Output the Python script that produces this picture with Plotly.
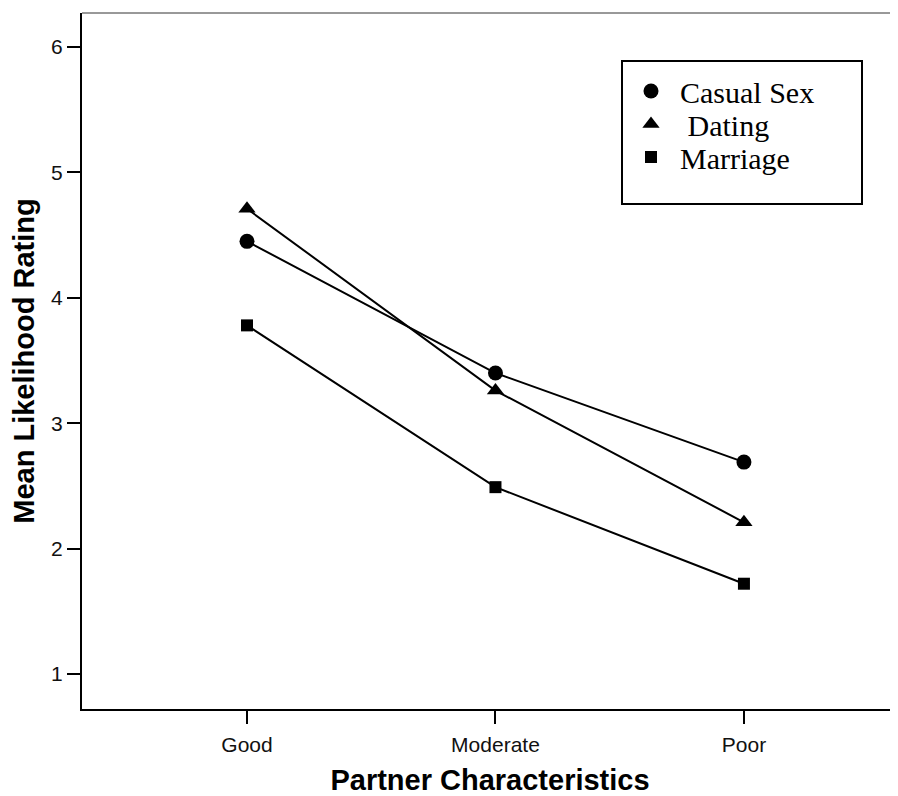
import plotly.graph_objects as go

categories = ["Good", "Moderate", "Poor"]
casual_sex = [4.45, 3.40, 2.69]
dating = [4.71, 3.26, 2.21]
marriage = [3.78, 2.49, 1.72]
y_ticks = [1, 2, 3, 4, 5, 6]

series = [
    ("Casual Sex", casual_sex, "circle", 15, "legend"),
    (" Dating", dating, "triangle-up", 15, "legend2"),
    ("Marriage", marriage, "square", 12, "legend3"),
]

fig = go.Figure()
for name, vals, sym, size, lg in series:
    fig.add_trace(go.Scatter(
        x=categories, y=vals, mode="lines",
        line=dict(color="black", width=2), showlegend=False, hoverinfo="skip"))
for name, vals, sym, size, lg in series:
    fig.add_trace(go.Scatter(
        x=categories, y=vals, mode="markers", name=name, legend=lg,
        marker=dict(symbol=sym, size=size, color="black")))

# plot area in page pixels: x 82..898, y 13..709 (page has 8px body margin)
PW, PH = 816, 696


def legend_row(center_px):
    return dict(
        x=(622 - 82) / PW, y=(709 - center_px) / PH, xanchor="left", yanchor="middle",
        bgcolor="rgba(0,0,0,0)", borderwidth=0, itemwidth=48, itemsizing="trace",
        font=dict(family="Liberation Serif, Times New Roman, serif", size=30, color="black"),
    )


fig.update_layout(
    width=890, height=788,
    margin=dict(l=74, r=0, t=5, b=87),
    plot_bgcolor="white", paper_bgcolor="white",
    font=dict(family="Liberation Sans, Arial, sans-serif", color="black"),
    showlegend=True,
    legend=legend_row(91),
    legend2=legend_row(124),
    legend3=legend_row(157),
    xaxis=dict(
        type="category", range=[-0.664, 2.62],
        showline=True, linecolor="black", linewidth=2,
        ticks="outside", ticklen=13, tickwidth=2, tickcolor="black",
        tickfont=dict(size=21, color="#111"), ticklabelstandoff=3,
        showgrid=False, zeroline=False,
        title=dict(text="<b>Partner Characteristics</b>", font=dict(size=29), standoff=20),
    ),
    yaxis=dict(
        range=[0.721, 6.271], tickvals=y_ticks,
        showline=True, linecolor="black", linewidth=2,
        ticks="outside", ticklen=13, tickwidth=2, tickcolor="black",
        tickfont=dict(size=21, color="#111"),
        showgrid=False, zeroline=False,
        title=dict(text="<b>Mean Likelihood Rating</b>", font=dict(size=29), standoff=8),
    ),
    shapes=[
        dict(type="line", xref="paper", yref="paper", x0=0, x1=1, y0=1, y1=1,
             line=dict(color="#333", width=1)),
        dict(type="rect", xref="paper", yref="paper",
             x0=(622 - 82) / PW, x1=(862 - 82) / PW,
             y0=(709 - 204) / PH, y1=(709 - 61) / PH,
             line=dict(color="black", width=2)),
    ],
)

fig.write_html("out.html")
